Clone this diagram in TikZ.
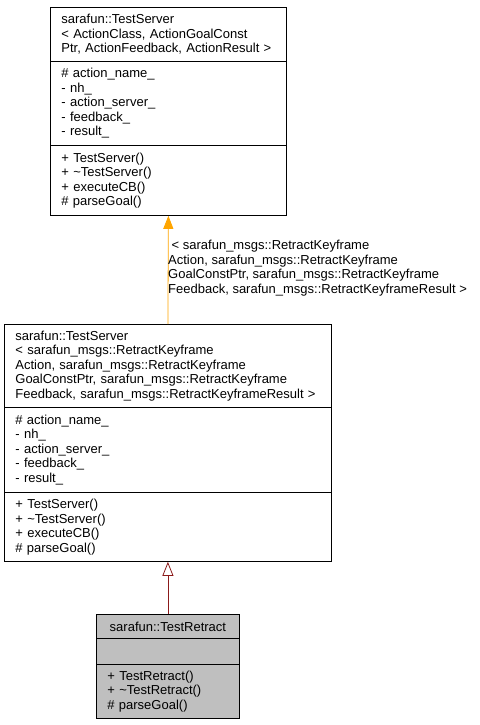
\documentclass[tikz,border=0pt]{standalone}
\usepackage{fontspec}
\setmainfont{Liberation Sans}
\usetikzlibrary{arrows.meta}
\newcommand{\umlfont}{\fontsize{13}{14.5}\selectfont}
\definecolor{tmplorange}{HTML}{FFA500}
\definecolor{inhred}{HTML}{8B1A1A}
\definecolor{leafgray}{HTML}{BFBFBF}

\tikzset{
  part/.style={draw, anchor=north west, inner xsep=11pt, inner ysep=0pt, align=left, font=\umlfont, line width=0.8pt},
  argtext/.style={anchor=west, inner sep=0pt, align=left, font=\umlfont},
  tmpledge/.style={draw=tmplorange, line width=0.8pt, -{Triangle[length=13pt,width=10pt,fill=tmplorange]}},
  inhedge/.style={draw=inhred, line width=0.8pt, -{Triangle[open,length=14pt,width=11pt]}},
}

\begin{document}
\begin{tikzpicture}[x=1pt,y=-1pt]
\useasboundingbox (0,0) rectangle (479,725);
% template class
\node[part, text width=214pt, minimum height=54pt] (basename) at (50,7) {sarafun::TestServer\\< ActionClass, ActionGoalConst\\Ptr, ActionFeedback, ActionResult >};
\node[part, text width=214pt, minimum height=84pt] (baseattr) at (50,61) {\# action\_name\_\\- nh\_\\- action\_server\_\\- feedback\_\\- result\_};
\node[part, text width=214pt, minimum height=70pt] (basemethods) at (50,145) {+ TestServer()\\+ \textasciitilde TestServer()\\+ executeCB()\\\# parseGoal()};
% instance
\node[part, text width=305pt, minimum height=83pt] (midname) at (4,324) {sarafun::TestServer\\< sarafun\_msgs::RetractKeyframe\\Action, sarafun\_msgs::RetractKeyframe\\GoalConstPtr, sarafun\_msgs::RetractKeyframe\\Feedback, sarafun\_msgs::RetractKeyframeResult >};
\node[part, text width=305pt, minimum height=85pt] (midattr) at (4,407) {\# action\_name\_\\- nh\_\\- action\_server\_\\- feedback\_\\- result\_};
\node[part, text width=305pt, minimum height=69pt] (midmethods) at (4,492) {+ TestServer()\\+ \textasciitilde TestServer()\\+ executeCB()\\\# parseGoal()};
% derived class
\node[part, fill=leafgray, align=center, text width=121pt, minimum height=24pt] (leafname) at (96,614) {sarafun::TestRetract};
\node[part, fill=leafgray, text width=121pt, minimum height=26pt] (leafattr) at (96,638) {};
\node[part, fill=leafgray, text width=121pt, minimum height=54pt] (leafmethods) at (96,664) {+ TestRetract()\\+ \textasciitilde TestRetract()\\\# parseGoal()};

\draw[tmpledge] (midname.north) -- (basemethods.south);
\node[argtext] (tmplargs) at (168,268) {\hspace*{3.5pt}< sarafun\_msgs::RetractKeyframe\\Action, sarafun\_msgs::RetractKeyframe\\GoalConstPtr, sarafun\_msgs::RetractKeyframe\\Feedback, sarafun\_msgs::RetractKeyframeResult >};
\draw[inhedge] (leafname.north) -- (midmethods.south);
\end{tikzpicture}
\end{document}
